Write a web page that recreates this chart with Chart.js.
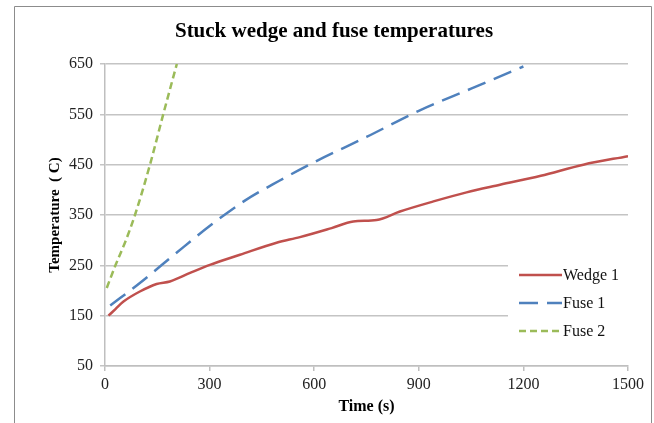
<!DOCTYPE html>
<html><head><meta charset="utf-8">
<script src="https://cdn.jsdelivr.net/npm/chart.js@4"></script>
<style>html,body{margin:0;padding:0;background:#fff}#wrap{width:654px;height:423px}</style>
</head><body><div id="wrap"><canvas id="c" width="654" height="423"></canvas></div>
<script>
const chartTitle = "Stuck wedge and fuse temperatures";
const xTitle = "Time (s)";
const yTitle = "Temperature  ( C)";
const seriesNames = ["Wedge 1", "Fuse 1", "Fuse 2"];
const wedge1Time = [10,30,53,100,148,186,244,301,387,492,559,650,712,779,846,942,1037,1133,1250,1372,1500];
const wedge1Temp = [150,163,178,198,213,218,235,251,271,295,306,324,337,340,357,377,395,410,428,450,467];
const fuse1Time = [15,100,200,300,400,500,600,750,900,1050,1200];
const fuse1Temp = [170,215,272,328,378,418,455,505,557,601,645];
const fuse2Time = [5,30,60,86,129,167,206];
const fuse2Temp = [205,250,300,350,450,550,650];
const xTicks = [0,300,600,900,1200,1500];
const yTicks = [50,150,250,350,450,550,650];

const colors = ["#C0504D","#4F81BD","#9BBB59"];
const dashes = [[],[19,9],[7,4]];
const serif = "'Liberation Serif','Times New Roman',serif";

function pts(t,v){return t.map((x,i)=>({x:x,y:v[i]}));}

const frame = {
  id:'frame',
  beforeDatasetsDraw(chart){
    const ctx=chart.ctx, a=chart.chartArea;
    ctx.save();
    ctx.fillStyle='#fff';
    ctx.fillRect(508, 240, a.right-508+2, 110);
    ctx.restore();
  },
  afterDraw(chart){
    const ctx=chart.ctx;
    ctx.save();
    ctx.strokeStyle='#8c8c8c'; ctx.lineWidth=1;
    ctx.beginPath();
    ctx.moveTo(14.5,430); ctx.lineTo(14.5,6.5); ctx.lineTo(651.5,6.5); ctx.lineTo(651.5,430);
    ctx.stroke();
    ctx.fillStyle='#000';
    ctx.font="bold 21px "+serif;
    ctx.textAlign='center'; ctx.textBaseline='middle';
    ctx.fillText(chartTitle, 334, 32);
    const ly=[275,303,331];
    ctx.font="16px "+serif;
    ctx.textAlign='left';
    for(let i=0;i<3;i++){
      ctx.strokeStyle=colors[i]; ctx.lineWidth=2.5; ctx.setLineDash(dashes[i]);
      ctx.beginPath(); ctx.moveTo(519,ly[i]); ctx.lineTo(562,ly[i]); ctx.stroke();
      ctx.setLineDash([]);
      ctx.fillStyle='#111';
      ctx.fillText(seriesNames[i], 563, ly[i]+1);
    }
    ctx.restore();
  }
};

new Chart(document.getElementById('c'),{
  type:'scatter',
  data:{datasets:[
    {label:seriesNames[0],data:pts(wedge1Time,wedge1Temp),showLine:true,borderColor:colors[0],borderWidth:2.5,borderDash:dashes[0],pointRadius:0,cubicInterpolationMode:'monotone'},
    {label:seriesNames[1],data:pts(fuse1Time,fuse1Temp),showLine:true,borderColor:colors[1],borderWidth:2.5,borderDash:dashes[1],pointRadius:0,cubicInterpolationMode:'monotone'},
    {label:seriesNames[2],data:pts(fuse2Time,fuse2Temp),showLine:true,borderColor:colors[2],borderWidth:2.5,borderDash:dashes[2],pointRadius:0,cubicInterpolationMode:'monotone'}
  ]},
  options:{
    responsive:false,animation:false,
    layout:{padding:{left:0,top:64,right:26,bottom:0}},
    plugins:{legend:{display:false},title:{display:false},tooltip:{enabled:false}},
    scales:{
      x:{type:'linear',min:0,max:1500,
        afterBuildTicks(s){s.ticks=xTicks.map(v=>({value:v}));},
        afterFit(s){s.height=57;},
        grid:{display:true,drawOnChartArea:false,drawTicks:true,tickLength:5,color:'#bfbfbf',lineWidth:1.5},
        border:{color:'#bfbfbf',width:1.5},
        ticks:{color:'#222',font:{family:serif,size:16},padding:4,maxRotation:0,callback:v=>String(v)},
        title:{display:true,text:xTitle,color:'#000',font:{family:serif,size:16,weight:'bold'},padding:{top:0,bottom:7}}
      },
      y:{type:'linear',min:50,max:650,
        afterBuildTicks(s){s.ticks=yTicks.map(v=>({value:v}));},
        afterFit(s){s.width=105;},
        grid:{color:'#c4c4c4',lineWidth:1.5,tickLength:5},
        border:{color:'#bfbfbf',width:1.5},
        ticks:{color:'#222',font:{family:serif,size:16},padding:7,callback:v=>String(v)},
        title:{display:true,text:yTitle,color:'#000',font:{family:serif,size:15,weight:'bold'},padding:{top:46,bottom:0}}
      }
    }
  },
  plugins:[frame]
});
</script></body></html>
